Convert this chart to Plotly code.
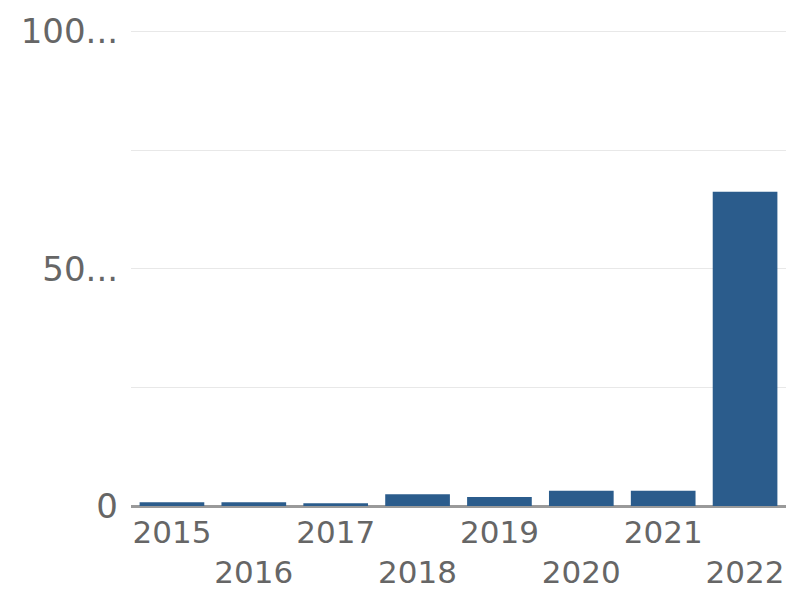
import plotly.graph_objects as go

years = ["2015", "2016", "2017", "2018", "2019", "2020", "2021", "2022"]
values = [0.8, 0.8, 0.6, 2.5, 1.9, 3.2, 3.2, 66.2]
year_labels = ["2015", "<br>2016", "2017", "<br>2018", "2019", "<br>2020", "2021", "<br>2022"]
y_tickvals = [0, 25, 50, 75, 100]
y_ticktext = ["0", "", "50...", "", "100..."]

fig = go.Figure(go.Bar(
    x=years, y=values,
    marker=dict(color="#2b5c8c", line=dict(width=0)),
))

fig.update_layout(
    width=791, height=584,
    margin=dict(l=123, r=13, t=22, b=86),
    paper_bgcolor="white", plot_bgcolor="white",
    bargap=0.21,
    showlegend=False,
    font=dict(family="DejaVu Sans", size=34, color="#666666"),
)
fig.update_xaxes(
    type="category",
    tickmode="array", tickvals=years, ticktext=year_labels,
    tickangle=0, automargin=False,
    tickfont=dict(size=31),
    showgrid=False, showline=False, ticks="", ticklabelstandoff=5,
)
fig.update_yaxes(
    range=[0, 100.3], automargin=False,
    tickmode="array", tickvals=y_tickvals, ticktext=y_ticktext,
    showgrid=True, gridcolor="#e8e8e8", gridwidth=1,
    zeroline=True, zerolinecolor="#9a9a9a", zerolinewidth=3,
    showline=False, ticks="", ticklabelstandoff=12,
)

fig.write_html("out.html")
